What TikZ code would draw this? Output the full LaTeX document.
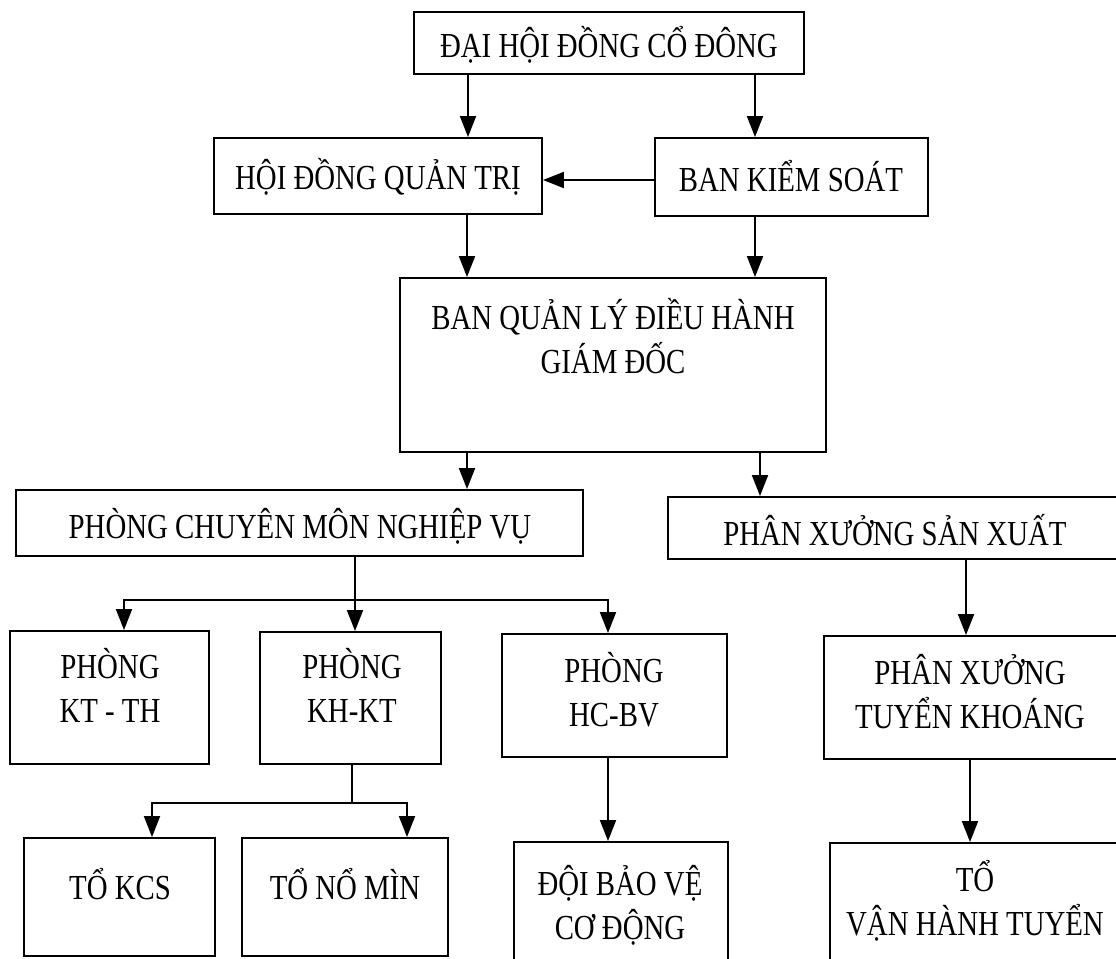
\documentclass[tikz,border=0pt]{standalone}
\usepackage{fontspec}
\setmainfont{Liberation Serif}[FakeStretch=0.82]
\usetikzlibrary{arrows.meta,fit}

\tikzset{
  box/.style={draw, line width=1.1pt, inner sep=0pt},
  arr/.style={line width=1.1pt, -{Triangle[length=0.42cm,width=0.32cm]}},
  lbl/.style={align=center, font=\fontsize{20}{25}\selectfont},
}

\begin{document}
\begin{tikzpicture}[x=0.02cm, y=-0.02cm]
    \useasboundingbox[fill=white] (0,0) rectangle (1116,958);
    \clip (0,0) rectangle (1116,958);

    % boxes and their texts
    \foreach \n/\a/\b/\t/\s in {
        dh/{414,12}/{804,74}/{609,45}/{ĐẠI HỘI ĐỒNG CỔ ĐÔNG},
        hd/{214,138}/{542,214}/{378,177}/{HỘI ĐỒNG QUẢN TRỊ},
        bk/{655,138}/{928,216}/{791,176}/{BAN KIỂM SOÁT},
        bq/{400,278}/{826,452}/{613,336}/{BAN QUẢN LÝ ĐIỀU HÀNH\\GIÁM ĐỐC},
        pc/{16,490}/{583,556}/{300,526}/{PHÒNG CHUYÊN MÔN NGHIỆP VỤ},
        px/{668,497}/{1130,559}/{895,530}/{PHÂN XƯỞNG SẢN XUẤT},
        kt/{10,631}/{209,764}/{110,685}/{PHÒNG\\KT - TH},
        kh/{260,632}/{441,764}/{352,685}/{PHÒNG\\KH-KT},
        hc/{502,634}/{727,757}/{614,690}/{PHÒNG\\HC-BV},
        tk/{824,636}/{1130,759}/{970,692}/{PHÂN XƯỞNG\\TUYỂN KHOÁNG},
        kcs/{24,838}/{215,956}/{120,884}/{TỔ KCS},
        nm/{242,838}/{448,956}/{345,884}/{TỔ NỔ MÌN},
        db/{514,842}/{728,975}/{620,905}/{ĐỘI BẢO VỆ\\CƠ ĐỘNG},
        vh/{830,843}/{1130,975}/{975,901}/{TỔ\\VẬN HÀNH TUYỂN}}
    {
        \node (\n) [box, fit={(\a) (\b)}] {};
        \node (\n t) [lbl] at (\t) {\s};
    }

    \draw[arr] (468,0 |- dh.south) -- (468,0 |- hd.north);
    \draw[arr] (755,0 |- dh.south) -- (755,0 |- bk.north);
    \draw[arr] (bk.west |- 0,180) -- (hd.east |- 0,180);
    \draw[arr] (467,0 |- hd.south) -- (467,0 |- bq.north);
    \draw[arr] (755,0 |- bk.south) -- (755,0 |- bq.north);
    \draw[arr] (467,0 |- bq.south) -- (467,0 |- pc.north);
    \draw[arr] (760,0 |- bq.south) -- (760,0 |- px.north);
    \draw[arr] (966,0 |- px.south) -- (966,0 |- tk.north);
    \draw[arr] (970,0 |- tk.south) -- (970,0 |- vh.north);
    \draw[arr] (608,0 |- hc.south) -- (608,0 |- db.north);

    % branches
    \draw[arr] (355,0 |- pc.south) -- (355,0 |- kh.north);
    \draw[arr] (355,600) -| (124,0 |- kt.north);
    \draw[arr] (355,600) -| (608,0 |- hc.north);
    \draw[line width=1.1pt] (352,0 |- kh.south) -- (352,803);
    \draw[arr] (352,803) -| (152,0 |- kcs.north);
    \draw[arr] (352,803) -| (407,0 |- nm.north);
\end{tikzpicture}
\end{document}
